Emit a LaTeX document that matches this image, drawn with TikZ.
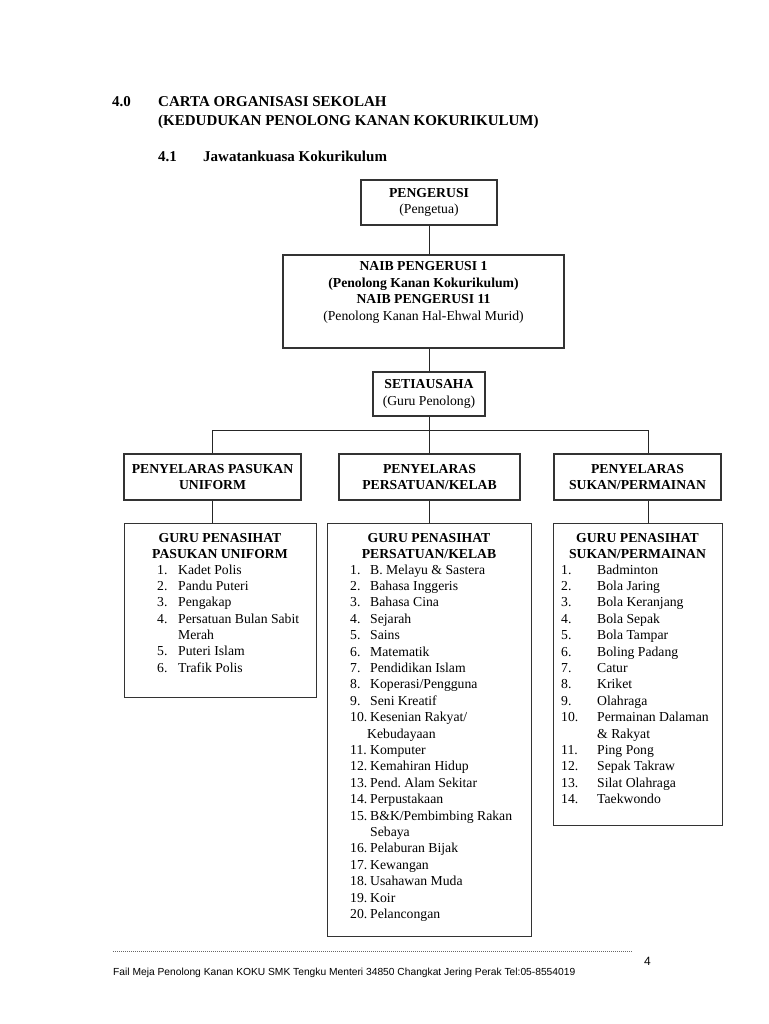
\documentclass[tikz,border=0pt]{standalone}
\usepackage{fontspec}
\setmainfont{Liberation Serif}
\newfontfamily\footfont{Liberation Sans}
\begin{document}
\begin{tikzpicture}[x=1pt,y=-1pt,
  box/.style={draw=black!80, line width=1.2pt, inner sep=0pt, align=center,
    font=\fontsize{13.7}{16.5}\selectfont},
  conn/.style={draw=black!85, line width=1pt},
  hd/.style={inner sep=0pt, anchor=base west, font=\fontsize{15}{18}\selectfont\bfseries},
  num/.style={inner sep=0pt, anchor=base west, font=\fontsize{13.7}{16}\selectfont},
  item/.style={inner sep=0pt, anchor=base west, font=\fontsize{13.7}{16}\selectfont},
  ttl/.style={inner sep=0pt, anchor=base, font=\fontsize{13.7}{16}\selectfont\bfseries}]
\useasboundingbox (0,0) rectangle (768,1024);
\fill[white] (0,0) rectangle (768,1024);

% header
\node[hd] (h40) at (112,107) {4.0};
\node[hd] (h40a) at (158,107) {CARTA ORGANISASI SEKOLAH};
\node[hd] (h40b) at (158,126) {(KEDUDUKAN PENOLONG KANAN KOKURIKULUM)};
\node[hd] (h41) at (158,162) {4.1};
\node[hd] (h41a) at (203,162) {Jawatankuasa Kokurikulum};

% top chain
\node[box, minimum width=136pt, minimum height=45pt] (peng) at (429,202.5)
  {\textbf{PENGERUSI}\\(Pengetua)};
\node[box, minimum width=281pt, minimum height=93pt] (naib) at (423.5,301.5)
  {\textbf{NAIB PENGERUSI 1}\\\textbf{(Penolong Kanan Kokurikulum)}\\\textbf{NAIB PENGERUSI 11}\\(Penolong Kanan Hal-Ehwal Murid)\\\strut};
\node[box, minimum width=112pt, minimum height=44pt] (setia) at (429,394)
  {\textbf{SETIAUSAHA}\\(Guru Penolong)};

\draw[conn] (peng.south) -- (peng.south |- naib.north);
\draw[conn] (peng.south |- naib.south) -- (setia.north);

% level 3
\node[box, minimum width=177pt, minimum height=46pt] (pl) at (212.5,477)
  {\textbf{PENYELARAS PASUKAN}\\\textbf{UNIFORM}};
\node[box, minimum width=181pt, minimum height=46pt] (pm) at (429.5,477)
  {\textbf{PENYELARAS}\\\textbf{PERSATUAN/KELAB}};
\node[box, minimum width=167pt, minimum height=46pt] (pr) at (637.5,477)
  {\textbf{PENYELARAS}\\\textbf{SUKAN/PERMAINAN}};

\coordinate (bus) at (429,430);
\coordinate (busl) at (212,430);
\coordinate (busr) at (648,430);
\draw[conn] (setia.south) -- (bus);
\draw[conn] (busl) -- (busr);
\draw[conn] (busl) -- (busl |- pl.north);
\draw[conn] (bus) -- (bus |- pm.north);
\draw[conn] (busr) -- (busr |- pr.north);

% level 4 boxes
\node[box, anchor=north west, minimum width=192pt, minimum height=174pt] (gl) at (124,523) {};
\node[box, anchor=north west, minimum width=204pt, minimum height=413pt] (gm) at (327,523) {};
\node[box, anchor=north west, minimum width=169pt, minimum height=302pt] (gr) at (553,523) {};

\draw[conn] (busl |- pl.south) -- (busl |- gl.north);
\draw[conn] (bus |- pm.south) -- (bus |- gm.north);
\draw[conn] (busr |- pr.south) -- (busr |- gr.north);

% titles
\node[ttl] (tl1) at (220,542) {GURU PENASIHAT};
\node[ttl] (tl2) at (220,558) {PASUKAN UNIFORM};
\node[ttl] (tm1) at (429,542) {GURU PENASIHAT};
\node[ttl] (tm2) at (429,558) {PERSATUAN/KELAB};
\node[ttl] (tr1) at (637.5,542) {GURU PENASIHAT};
\node[ttl] (tr2) at (637.5,558) {SUKAN/PERMAINAN};

% left list
\foreach \n/\t [count=\i from 0] in {1./Kadet Polis, 2./Pandu Puteri, 3./Pengakap,
  4./Persatuan Bulan Sabit, /Merah, 5./Puteri Islam, 6./Trafik Polis} {
  \node[num] (ln\i) at (157, 574+16.35*\i) {\n};
  \node[item] (lt\i) at (178, 574+16.35*\i) {\t};
}

% middle list
\foreach \n/\t [count=\i from 0] in {1./{B.\ Melayu \& Sastera}, 2./Bahasa Inggeris, 3./Bahasa Cina,
  4./Sejarah, 5./Sains, 6./Matematik, 7./Pendidikan Islam, 8./{Koperasi/Pengguna},
  9./Seni Kreatif, 10./{Kesenian Rakyat/}, /{\hspace{-3pt}Kebudayaan}, 11./Komputer,
  12./Kemahiran Hidup, 13./{Pend.\ Alam Sekitar}, 14./Perpustakaan,
  15./{B\&K/Pembimbing Rakan}, /Sebaya, 16./Pelaburan Bijak, 17./Kewangan,
  18./Usahawan Muda, 19./Koir, 20./Pelancongan} {
  \node[num] (mn\i) at (350, 574+16.4*\i) {\n};
  \node[item] (mt\i) at (370, 574+16.4*\i) {\t};
}

% right list
\foreach \n/\t [count=\i from 0] in {1./Badminton, 2./Bola Jaring, 3./Bola Keranjang,
  4./Bola Sepak, 5./Bola Tampar, 6./Boling Padang, 7./Catur, 8./Kriket, 9./Olahraga,
  10./Permainan Dalaman, /{\&~Rakyat}, 11./Ping Pong, 12./Sepak Takraw,
  13./Silat Olahraga, 14./Taekwondo} {
  \node[num] (rn\i) at (561, 574+16.4*\i) {\n};
  \node[item] (rt\i) at (597, 574+16.4*\i) {\t};
}

% footer
\coordinate (fl) at (113,951);
\coordinate (fr) at (632,951);
\draw[black!60, line width=0.6pt, dash pattern=on 0.9pt off 1.1pt] (fl) -- (fr);
\node[inner sep=0pt, anchor=base west, font=\footfont\fontsize{12}{14}\selectfont] (pg) at (644,965) {4};
\node[inner sep=0pt, anchor=base west, font=\footfont\fontsize{10.25}{12}\selectfont] (ft) at (113,975)
  {Fail Meja Penolong Kanan KOKU SMK Tengku Menteri 34850 Changkat Jering Perak Tel:05-8554019};
\end{tikzpicture}
\end{document}
